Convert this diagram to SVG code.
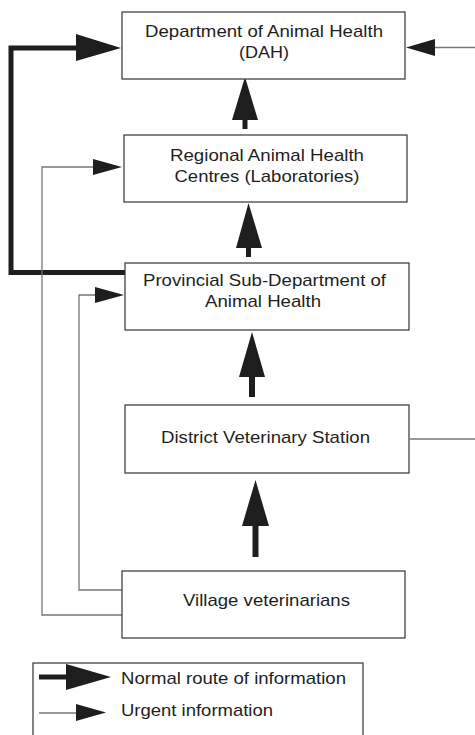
<svg xmlns="http://www.w3.org/2000/svg" width="475" height="735" viewBox="0 0 475 735">
<style>
.box{fill:#fff;stroke:#333;stroke-width:1.2}
.lbl{font-family:"Liberation Sans",Arial,sans-serif;font-size:17px;fill:#1e1e1e;text-anchor:middle}
.leg{font-family:"Liberation Sans",Arial,sans-serif;font-size:17px;fill:#1e1e1e}
.thick{fill:none;stroke:#1e1e1e;stroke-width:5}
.thin{fill:none;stroke:#777;stroke-width:1.3}
.head{fill:#1e1e1e}
</style>
<rect width="475" height="735" fill="#fff"/>
<g id="connectors">
  <path class="thick" d="M125,272.5 H11 V48 H78"/>
  <polygon class="head" points="76,34 121,48 76,61"/>
  <rect x="242.5" y="118" width="5" height="11" class="head"/>
  <polygon class="head" points="245,77 258,120 232,120"/>
  <rect x="246" y="246" width="5" height="11" class="head"/>
  <polygon class="head" points="248.5,203 262,248 236,248"/>
  <rect x="249" y="375" width="6" height="22" class="head"/>
  <polygon class="head" points="252,332 265,377 239,377"/>
  <rect x="252.5" y="524" width="6" height="33" class="head"/>
  <polygon class="head" points="255.5,480 269,526 242,526"/>
  <path class="thin" d="M122,615 H42 V167 H95"/>
  <polygon class="head" points="93,159 122,167 93,175"/>
  <path class="thin" d="M122,590 H79 V295 H97"/>
  <polygon class="head" points="95,287 124,295 95,303"/>
  <path class="thin" d="M410,439 H475"/>
  <path class="thin" d="M475,47.5 H433"/>
  <polygon class="head" points="435,39 406,47.5 435,56"/>
</g>
<g id="dah">
  <rect class="box" x="122" y="12" width="283" height="67"/>
  <text class="lbl" x="264" y="37" textLength="238" lengthAdjust="spacingAndGlyphs">Department of Animal Health</text>
  <text class="lbl" x="264" y="58" textLength="50" lengthAdjust="spacingAndGlyphs">(DAH)</text>
</g>
<g id="regional">
  <rect class="box" x="124" y="135" width="283" height="67"/>
  <text class="lbl" x="267" y="161" textLength="194" lengthAdjust="spacingAndGlyphs">Regional Animal Health</text>
  <text class="lbl" x="267" y="182" textLength="185" lengthAdjust="spacingAndGlyphs">Centres (Laboratories)</text>
</g>
<g id="provincial">
  <rect class="box" x="125" y="263" width="284" height="67"/>
  <text class="lbl" x="264.5" y="286" textLength="243" lengthAdjust="spacingAndGlyphs">Provincial Sub-Department of</text>
  <text class="lbl" x="263" y="307" textLength="116" lengthAdjust="spacingAndGlyphs">Animal Health</text>
</g>
<g id="district">
  <rect class="box" x="125" y="405" width="284" height="68"/>
  <text class="lbl" x="265.5" y="443" textLength="209" lengthAdjust="spacingAndGlyphs">District Veterinary Station</text>
</g>
<g id="village">
  <rect class="box" x="122" y="571" width="283" height="67"/>
  <text class="lbl" x="266.5" y="606" textLength="167" lengthAdjust="spacingAndGlyphs">Village veterinarians</text>
</g>
<g id="legend">
  <rect class="box" x="33" y="663" width="330" height="85"/>
  <path class="thick" d="M39,677 H68"/>
  <polygon class="head" points="66,664 111,677 66,690"/>
  <text class="leg" x="121" y="684" textLength="225" lengthAdjust="spacingAndGlyphs">Normal route of information</text>
  <path class="thin" d="M39,713 H78"/>
  <polygon class="head" points="76,704 106,712.5 76,721"/>
  <text class="leg" x="121" y="716" textLength="152" lengthAdjust="spacingAndGlyphs">Urgent information</text>
</g>
</svg>
